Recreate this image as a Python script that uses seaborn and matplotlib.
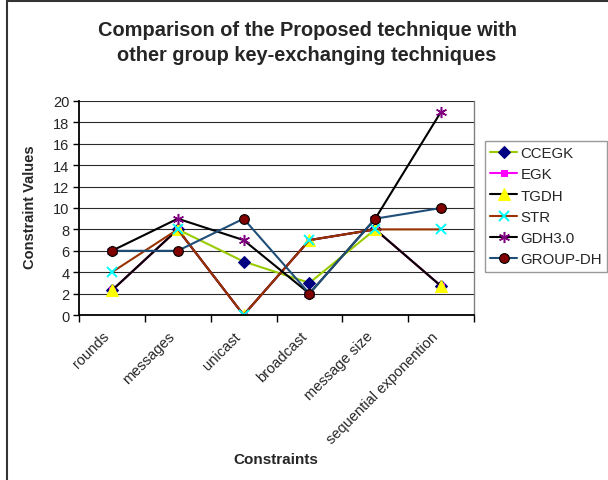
import matplotlib
matplotlib.use("Agg")
import matplotlib.pyplot as plt
import matplotlib.transforms as mtransforms
from matplotlib.lines import Line2D
import seaborn as sns
import pandas as pd
import numpy as np

categories = ["rounds", "messages", "unicast", "broadcast", "message size", "sequential exponention"]
ccegk = [2.3, 8, 5, 3, 8, 2.7]
egk = [2.3, 8, 0, 7, 8, 2.7]
tgdh = [2.3, 8, 0, 7, 8, 2.7]
str_ = [4, 8, 0, 7, 8, 8]
gdh3 = [6, 9, 7, 2, 9, 19]
group_dh = [6, 6, 9, 2, 9, 10]
series_names = ["CCEGK", "EGK", "TGDH", "STR", "GDH3.0", "GROUP-DH"]
yticks = [0, 2, 4, 6, 8, 10, 12, 14, 16, 18, 20]

sns.set_theme(style="white")
plt.rcParams['font.family'] = ['Liberation Sans', 'DejaVu Sans']

rows = []
for name, vals in zip(series_names, [ccegk, egk, tgdh, str_, gdh3, group_dh]):
    for i, v in enumerate(vals):
        rows.append({"series": name, "pos": i, "value": v})
df = pd.DataFrame(rows)

styles = {
    "CCEGK": dict(color="#99CC00", marker="D", markerfacecolor="#000080", markeredgecolor="#000080", markersize=6),
    "EGK": dict(color="#FF00FF", marker="s", markerfacecolor="#FF00FF", markeredgecolor="#FF00FF", markersize=4.5),
    "TGDH": dict(color="#000000", marker="^", markerfacecolor="#FFFF00", markeredgecolor="#FFFF00", markersize=8),
    "STR": dict(color="#993300", marker="x", markerfacecolor="#00FFFF", markeredgecolor="#00FFFF", markersize=7, markeredgewidth=1.4),
    "GDH3.0": dict(color="#000000", marker=(6, 2, 0), markerfacecolor="#800080", markeredgecolor="#800080", markersize=8, markeredgewidth=1.1),
    "GROUP-DH": dict(color="#1F4E79", marker="o", markerfacecolor="#800000", markeredgecolor="#000000", markersize=7, markeredgewidth=0.8),
}

fig = plt.figure(figsize=(6.08, 4.81), dpi=100)
ax = fig.add_axes([79/608, 1-316/481, (474-79)/608, (316-102)/481])

for name in series_names:
    sub = df[df["series"] == name]
    st = dict(styles[name])
    sns.lineplot(data=sub, x="pos", y="value", ax=ax, linewidth=1.5, label=name,
                 estimator=None, sort=False, **st)

ax.set_xlim(-0.5, len(categories) - 0.5)
ax.set_ylim(0, 20)
ax.set_yticks(yticks)
ax.set_yticklabels([str(t) for t in yticks], fontsize=10.5)
ax.set_xticks(range(len(categories)))
ax.set_xticklabels(categories, rotation=45, ha="right", va="top", rotation_mode="default", fontsize=10.5)
offset = mtransforms.ScaledTranslation(-10/100, 0, fig.dpi_scale_trans)
for lbl in ax.get_xticklabels():
    lbl.set_transform(lbl.get_transform() + offset)
ax.set_xticks(np.arange(-0.5, len(categories), 1.0), minor=True)
ax.tick_params(axis="x", which="major", length=0, pad=10)
ax.tick_params(axis="x", which="minor", length=5, width=1, color="black", direction="out", bottom=True)
ax.tick_params(axis="y", which="major", length=4, width=1, color="black", direction="out", left=True, pad=3)
ax.yaxis.grid(True, color="#2a2a2a", linewidth=0.8)
ax.xaxis.grid(False)
ax.set_axisbelow(True)
for s in ["left", "bottom"]:
    ax.spines[s].set_color("black")
    ax.spines[s].set_linewidth(1.3)
ax.spines["top"].set_visible(False)
ax.spines["right"].set_color("#808080")
ax.spines["right"].set_linewidth(1.0)

ax.set_xlabel("")
ax.set_ylabel("")
fig.text(30/608, 1-207/481, "Constraint Values", rotation=90, ha="center", va="center",
         fontsize=10.5, fontweight="bold")
fig.text(276/608, 1-460/481, "Constraints", ha="center", va="center", fontsize=11, fontweight="bold")
fig.text(307/608, 1-43/481, "Comparison of the Proposed technique with\nother group key-exchanging techniques",
         ha="center", va="center", fontsize=14.4, fontweight="bold", linespacing=1.4)

handles, labels = ax.get_legend_handles_labels()
leg = ax.legend(handles, labels, loc="upper left", bbox_to_anchor=(485/608, 1-142/481),
                bbox_transform=fig.transFigure, frameon=True, fancybox=False, fontsize=10.8,
                edgecolor="#808080", handlelength=1.8, handletextpad=0.2, labelspacing=0.48,
                borderpad=0.35, borderaxespad=0)
leg.get_frame().set_linewidth(1.0)

fig.add_artist(Line2D([7/608, 7/608], [0, 1-2/481], transform=fig.transFigure, color="#333333", linewidth=1.5))
fig.add_artist(Line2D([7/608, 1], [1-2/481, 1-2/481], transform=fig.transFigure, color="#333333", linewidth=1.5))

fig.savefig("out.png", dpi=100)
